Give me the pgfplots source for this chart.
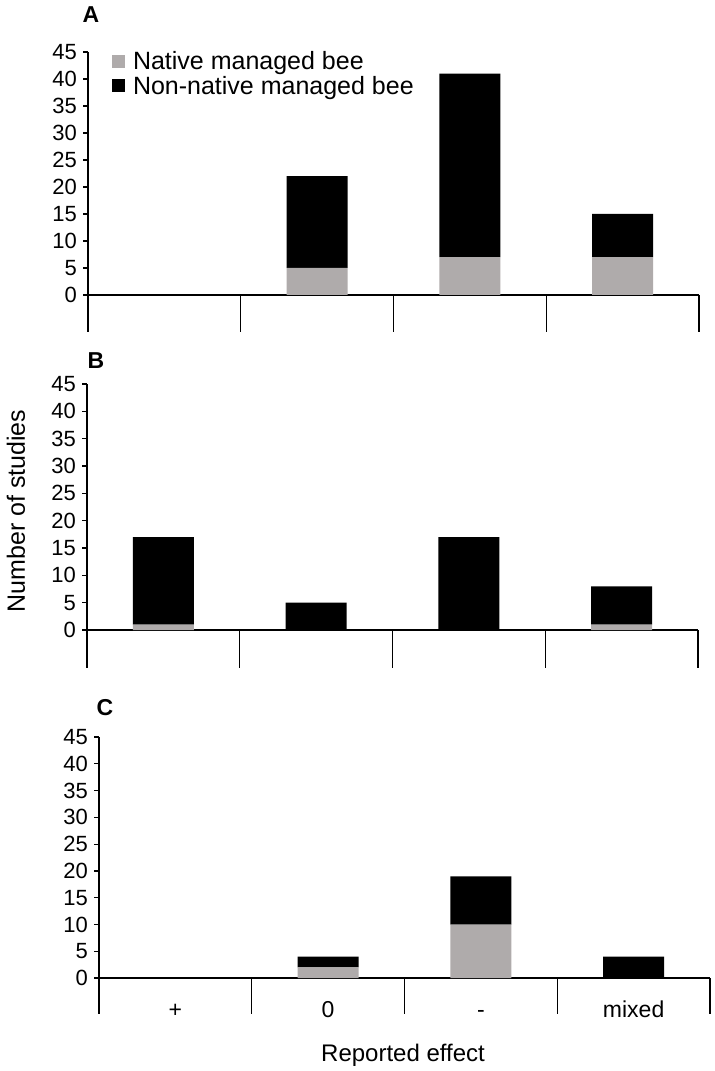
\documentclass[border=0pt]{standalone}
\usepackage{fontspec}
\setmainfont{Liberation Sans}
\usepackage{pgfplots}
\pgfplotsset{compat=1.18}
\definecolor{natgray}{RGB}{175,171,171}

\pgfplotsset{
  panel/.style={
    scale only axis, width=611bp,
    xmin=0, xmax=4, ymax=45,
    axis x line=bottom, axis y line=left,
    axis line style={-, line width=1.3bp},
    x axis line style={draw=none},
    ytick={0,5,...,45}, tick align=outside, major tick length=5bp,
    ytick style={line width=1.3bp, black},
    xtick style={draw=none},
    /pgf/number format/assume math mode=true,
    tick label style={font=\fontsize{22bp}{22bp}\selectfont},
    yticklabel style={inner sep=0bp, xshift=-6bp},
    ybar stacked, bar width=0.4,
    clip=false,
  },
}
\newcommand{\separators}[1]{%
  \draw[line width=1.3bp] (axis cs:0,0) -- (axis cs:4,0);
  \draw[line width=1.3bp] (axis cs:1,0) -- (axis cs:1,#1);
  \draw[line width=1.3bp] (axis cs:2,0) -- (axis cs:2,#1);
  \draw[line width=1.3bp] (axis cs:3,0) -- (axis cs:3,#1);
  \draw[line width=1.3bp] (axis cs:4,0) -- (axis cs:4,#1);
}

\begin{document}
\begin{tikzpicture}
\useasboundingbox (0,0) rectangle (715bp,1071bp);

% Panel A
\begin{axis}[panel, at={(88bp,739bp)}, anchor=south west,
  height=280bp, ymin=-6.85, xtick=\empty,
  legend style={at={(axis description cs:0.039,1.01)}, anchor=north west,
    draw=none, fill=none, inner sep=0pt, row sep=1bp,
    font=\fontsize{25bp}{25bp}\selectfont, cells={anchor=west},
    /tikz/column 1/.style={column sep=6bp}},
  legend image code/.code={\fill[#1] (0bp,-6.5bp) rectangle (13bp,6.5bp);},
]
\addplot[fill=natgray, draw=none] coordinates {(0.5,0) (1.5,5) (2.5,7) (3.5,7)};
\addplot[fill=black, draw=none] coordinates {(0.5,0) (1.5,17) (2.5,34) (3.5,8)};
\legend{Native managed bee, Non-native managed bee}
\separators{-6.85}
\end{axis}

% Panel B
\begin{axis}[panel, at={(87bp,403bp)}, anchor=south west,
  height=284bp, ymin=-6.95, xtick=\empty]
\addplot[fill=natgray, draw=none] coordinates {(0.5,1) (1.5,0) (2.5,0) (3.5,1)};
\addplot[fill=black, draw=none] coordinates {(0.5,16) (1.5,5) (2.5,17) (3.5,7)};
\separators{-6.95}
\end{axis}

% Panel C
\begin{axis}[panel, at={(99bp,57bp)}, anchor=south west,
  height=277bp, ymin=-6.7,
  xtick={0.5,1.5,2.5,3.5}, xticklabels={+,0,-,mixed},
  xticklabel style={font=\fontsize{23bp}{23bp}\selectfont, anchor=base, yshift=1bp}]
\addplot[fill=natgray, draw=none] coordinates {(0.5,0) (1.5,2) (2.5,10) (3.5,0)};
\addplot[fill=black, draw=none] coordinates {(0.5,0) (1.5,2) (2.5,9) (3.5,4)};
\separators{-6.7}
\end{axis}

% Labels
\node[font=\fontsize{23bp}{23bp}\selectfont\bfseries] at (91bp,1056bp) {A};
\node[font=\fontsize{23bp}{23bp}\selectfont\bfseries] at (96bp,710bp) {B};
\node[font=\fontsize{23bp}{23bp}\selectfont\bfseries] at (105bp,363bp) {C};
\node[rotate=90, font=\fontsize{25bp}{25bp}\selectfont] at (16bp,560bp) {Number of studies};
\node[font=\fontsize{24bp}{24bp}\selectfont] at (403bp,16bp) {Reported effect};
\end{tikzpicture}
\end{document}
